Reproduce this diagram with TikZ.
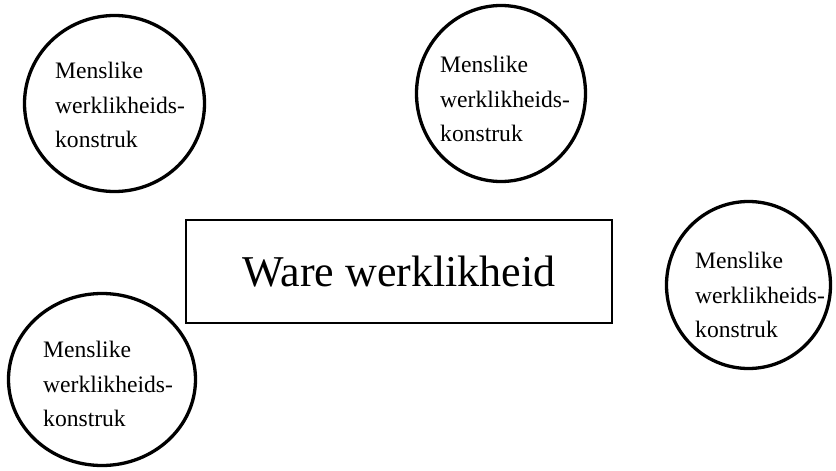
\documentclass[tikz,border=0pt]{standalone}
\usepackage{fontspec}
\setmainfont{Liberation Serif}
\usetikzlibrary{shapes.geometric}
\begin{document}
\begin{tikzpicture}[x=1pt,y=-1pt,
  ring/.style={ellipse,draw,line width=3.3pt,inner sep=0pt},
  ctext/.style={align=left,anchor=north west,inner sep=0pt,font=\fontsize{23.6}{34.5}\selectfont},
  mainbox/.style={draw,line width=1.7pt,inner sep=0pt,minimum width=426,minimum height=103,font=\fontsize{44}{50}\selectfont}]
\useasboundingbox (0,0) rectangle (836,471);
\node[ring,minimum width=180,minimum height=176] (c1) at (114.5,103.5) {};
\node[ring,minimum width=169,minimum height=176] (c2) at (501,93.5) {};
\node[ring,minimum width=164,minimum height=167] (c3) at (748.5,285) {};
\node[ring,minimum width=187,minimum height=172] (c4) at (102,379.5) {};
\node[ctext] (t1) at (55,62) {Menslike\\werklikheids-\\konstruk};
\node[ctext] (t2) at (440,56) {Menslike\\werklikheids-\\konstruk};
\node[ctext] (t3) at (695,252) {Menslike\\werklikheids-\\konstruk};
\node[ctext] (t4) at (43,341) {Menslike\\werklikheids-\\konstruk};
\node[mainbox] (ware) at (399,271.5) {Ware werklikheid};
\end{tikzpicture}
\end{document}
